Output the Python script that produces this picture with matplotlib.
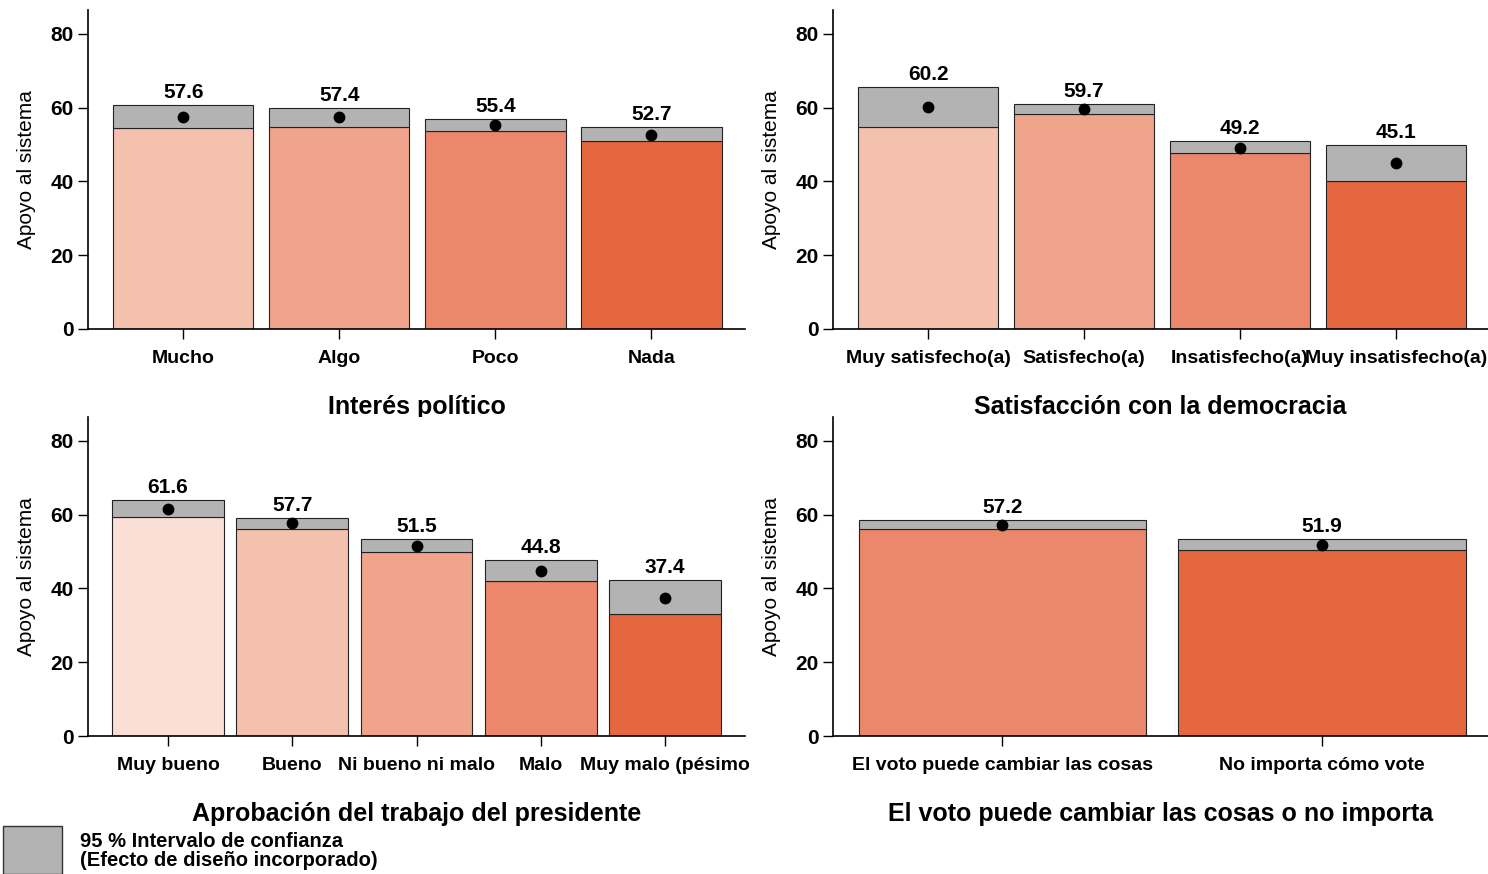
import numpy as np
import matplotlib.pyplot as plt
from matplotlib.patches import Rectangle

plt.rcParams['font.family'] = ['Liberation Sans', 'DejaVu Sans']

# data
interes_cat = ["Mucho", "Algo", "Poco", "Nada"]
interes_mean = [57.6, 57.4, 55.4, 52.7]
interes_lo = [54.5, 54.8, 53.7, 51.0]
interes_hi = [60.7, 59.9, 56.9, 54.8]

satis_cat = ["Muy satisfecho(a)", "Satisfecho(a)", "Insatisfecho(a)", "Muy insatisfecho(a)"]
satis_mean = [60.2, 59.7, 49.2, 45.1]
satis_lo = [54.8, 58.3, 47.7, 40.1]
satis_hi = [65.6, 61.0, 51.0, 49.9]

aprob_cat = ["Muy bueno", "Bueno", "Ni bueno ni malo", "Malo", "Muy malo (pésimo"]
aprob_mean = [61.6, 57.7, 51.5, 44.8, 37.4]
aprob_lo = [59.4, 56.1, 49.9, 42.0, 33.1]
aprob_hi = [64.0, 59.1, 53.4, 47.7, 42.3]

voto_cat = ["El voto puede cambiar las cosas", "No importa cómo vote"]
voto_mean = [57.2, 51.9]
voto_lo = [56.1, 50.4]
voto_hi = [58.6, 53.4]

c5 = ["#FADFD6", "#F4C1AF", "#F0A48B", "#EB876A", "#E5673F"]
gray = "#B3B3B3"

fig = plt.figure(figsize=(14.88, 8.74), dpi=100)

panels = [
    (interes_cat, interes_mean, interes_lo, interes_hi, c5[1:], "Interés político",
     [88/1488, 1 - 329/874, 657/1488, 319/874], (-0.61, 3.6)),
    (satis_cat, satis_mean, satis_lo, satis_hi, c5[1:], "Satisfacción con la democracia",
     [833/1488, 1 - 329/874, 655/1488, 319/874], (-0.61, 3.59)),
    (aprob_cat, aprob_mean, aprob_lo, aprob_hi, c5, "Aprobación del trabajo del presidente",
     [88/1488, 1 - 736/874, 657/1488, 319/874], (-0.645, 4.645)),
    (voto_cat, voto_mean, voto_lo, voto_hi, c5[3:], "El voto puede cambiar las cosas o no importa",
     [833/1488, 1 - 736/874, 655/1488, 319/874], (-0.53, 1.52)),
]

for cats, mean, lo, hi, cols, title, pos, xl in panels:
    ax = fig.add_axes(pos)
    x = np.arange(len(cats))
    lo = np.array(lo)
    hi = np.array(hi)
    ax.bar(x, lo, width=0.9, color=cols, edgecolor="#222222", linewidth=0.8)
    ax.bar(x, hi - lo, bottom=lo, width=0.9, color=gray, edgecolor="#222222", linewidth=0.8)
    ax.plot(x, mean, "o", color="black", markersize=7.5)
    for xi, m, h in zip(x, mean, hi):
        ax.annotate(f"{m:.1f}", (xi, h), xytext=(0, 2), textcoords="offset points",
                    ha="center", va="bottom", fontsize=15, fontweight="bold")
    ax.set_xlim(*xl)
    ax.set_ylim(0, 86.5)
    ax.set_yticks([0, 20, 40, 60, 80])
    ax.set_xticks(x)
    ax.set_xticklabels(cats, fontsize=14, fontweight="bold")
    ax.tick_params(axis="y", labelsize=15, length=7, width=1)
    ax.tick_params(axis="x", length=7, width=1, pad=8)
    for lab in ax.get_yticklabels():
        lab.set_fontweight("bold")
    ax.set_ylabel("Apoyo al sistema", fontsize=15, labelpad=10)
    ax.set_xlabel(title, fontsize=18, fontweight="bold", labelpad=20)
    ax.spines["top"].set_visible(False)
    ax.spines["right"].set_visible(False)
    ax.spines["left"].set_linewidth(1.2)
    ax.spines["bottom"].set_linewidth(1.2)

# legend
fig.patches.append(Rectangle((3/1488, 0), 59/1488, 48/874, transform=fig.transFigure,
                             facecolor=gray, edgecolor="#333333", linewidth=1))
fig.text(80/1488, 1 - 851/874, "95 % Intervalo de confianza\n(Efecto de diseño incorporado)",
         fontsize=14.5, fontweight="bold", va="center", ha="left", linespacing=0.95)

fig.savefig("out.png", dpi=100)
